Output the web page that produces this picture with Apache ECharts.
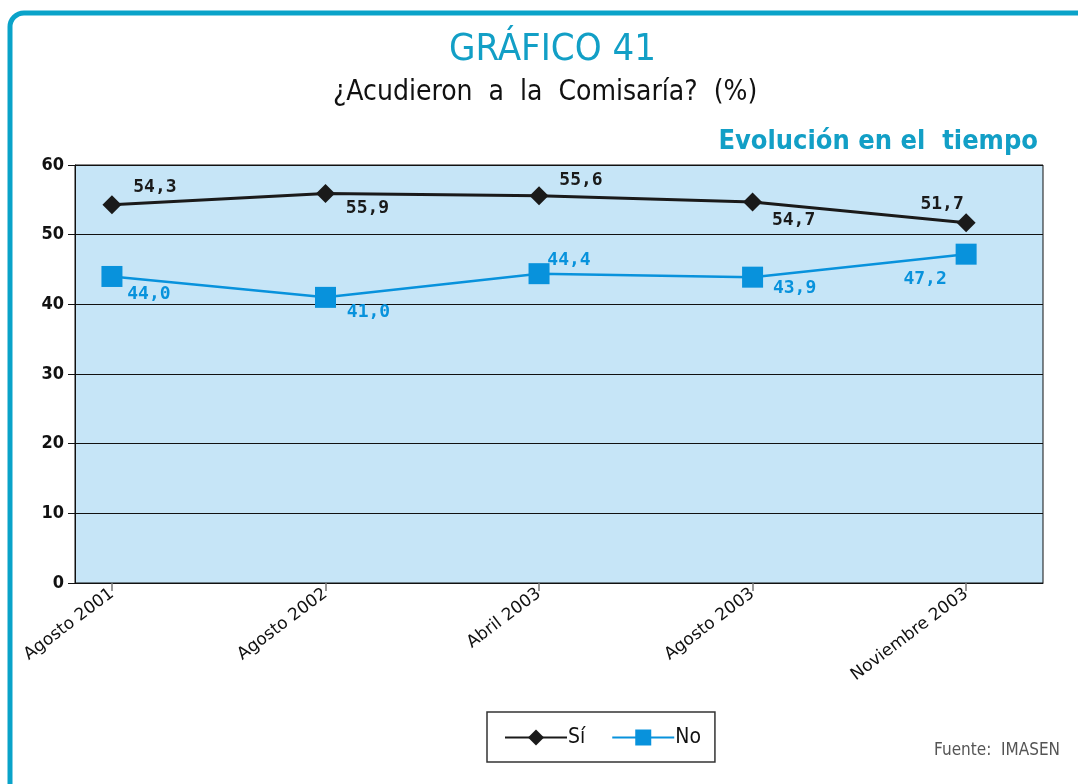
<!DOCTYPE html>
<html>
<head>
<meta charset="utf-8">
<script src="https://cdn.jsdelivr.net/npm/echarts@6/dist/echarts.min.js"></script>
<style>
  html, body { margin: 0; padding: 0; background: #fff; }
  #chart { width: 1078px; height: 784px; }
</style>
</head>
<body>
<div id="chart"></div>
<script>
// data
const categories = ['Agosto 2001', 'Agosto 2002', 'Abril 2003', 'Agosto 2003', 'Noviembre 2003'];
const siValues = [54.3, 55.9, 55.6, 54.7, 51.7];
const noValues = [44.0, 41.0, 44.4, 43.9, 47.2];
const yTicks = [0, 10, 20, 30, 40, 50, 60];

// label placement (style only)
const siLabelOffsets = [[43, -17], [42, 15], [42, -15], [41, 18], [-24, -18]];
const noLabelOffsets = [[37, 18], [43, 15], [30, -13], [42, 11], [-41, 25]];

const teal = '#129fc6';
const blue = '#0892dc';
const narrow = '"DejaVu Sans Condensed", "Liberation Sans Narrow", sans-serif';

const chart = echarts.init(document.getElementById('chart'));

function buildData(values, offsets) {
  return values.map((v, i) => ({
    value: [i, v],
    label: { offset: offsets[i] }
  }));
}

const option = {
  animation: false,
  backgroundColor: '#fff',
  graphic: [
    {
      type: 'rect',
      shape: { x: 10, y: 13, width: 1300, height: 1000, r: 14 },
      style: { fill: 'none', stroke: '#0aa3c9', lineWidth: 5 },
      silent: true
    },
    {
      type: 'text',
      left: 449, top: 31,
      style: { text: 'GRÁFICO 41', fill: teal, font: '38px ' + narrow }
    },
    {
      type: 'text',
      left: 333, top: 79,
      style: { text: '¿Acudieron  a  la  Comisaría?  (%)', fill: '#111', font: '28px ' + narrow }
    },
    {
      type: 'text',
      right: 40, top: 128,
      style: { text: 'Evolución en el  tiempo', fill: teal, font: 'bold 27px ' + narrow }
    },
    {
      type: 'text',
      right: 18, top: 742,
      style: { text: 'Fuente:  IMASEN', fill: '#555', font: '17px ' + narrow }
    }
  ],
  grid: {
    left: 75, right: 35, top: 165, bottom: 201,
    show: true,
    backgroundColor: '#c6e5f7',
    borderColor: '#111',
    borderWidth: 1
  },
  legend: {
    left: 487, top: 712,
    width: 226,
    padding: [15, 14, 14, 17],
    itemWidth: 62,
    itemHeight: 20,
    itemGap: 26,
    borderColor: '#333',
    borderWidth: 1.5,
    backgroundColor: '#fff',
    textStyle: { fontSize: 21, color: '#111', fontFamily: narrow, padding: [0, 0, 0, -4] },
    data: ['Sí', 'No']
  },
  xAxis: {
    type: 'value',
    min: -0.173,
    max: 4.36,
    splitLine: { show: false },
    axisLine: { onZero: false, lineStyle: { color: '#111', width: 1 } },
    axisTick: { show: true, customValues: [0, 1, 2, 3, 4], length: 8, lineStyle: { color: '#777', width: 1.5 } },
    axisLabel: {
      customValues: [0, 1, 2, 3, 4],
      formatter: v => categories[Math.round(v)],
      rotate: 37,
      margin: 9,
      color: '#111',
      fontSize: 17,
      fontFamily: '"DejaVu Sans", sans-serif'
    }
  },
  yAxis: {
    type: 'value',
    min: yTicks[0],
    max: yTicks[yTicks.length - 1],
    interval: 10,
    axisLine: { show: true, onZero: false, lineStyle: { color: '#111', width: 1 } },
    axisTick: { show: true, length: 7, lineStyle: { color: '#111' } },
    splitLine: { lineStyle: { color: '#111', width: 1 } },
    axisLabel: {
      color: '#111',
      fontSize: 18,
      fontWeight: 'bold',
      margin: 11,
      fontFamily: '"DejaVu Sans Condensed", sans-serif'
    }
  },
  series: [
    {
      name: 'Sí',
      type: 'line',
      data: buildData(siValues, siLabelOffsets),
      symbol: 'diamond',
      symbolSize: 19,
      itemStyle: { color: '#1a1a1a' },
      lineStyle: { color: '#1a1a1a', width: 3 },
      label: {
        show: true,
        position: 'inside',
        formatter: p => p.value[1].toFixed(1).replace('.', ','),
        color: '#1a1a1a',
        fontSize: 18,
        fontWeight: 'bold',
        fontFamily: '"DejaVu Sans Mono", monospace'
      },
      z: 3
    },
    {
      name: 'No',
      type: 'line',
      data: buildData(noValues, noLabelOffsets),
      symbol: 'rect',
      symbolSize: 21,
      itemStyle: { color: blue },
      lineStyle: { color: blue, width: 2.5 },
      label: {
        show: true,
        position: 'inside',
        formatter: p => p.value[1].toFixed(1).replace('.', ','),
        color: blue,
        fontSize: 18,
        fontWeight: 'bold',
        fontFamily: '"DejaVu Sans Mono", monospace'
      },
      z: 2
    }
  ]
};

chart.setOption(option);
</script>
</body>
</html>
